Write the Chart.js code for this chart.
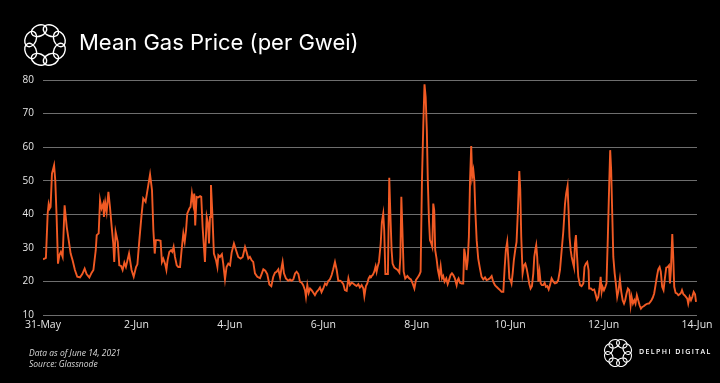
<!DOCTYPE html>
<html>
<head>
<meta charset="utf-8">
<script src="https://cdn.jsdelivr.net/npm/chart.js@4/dist/chart.umd.min.js"></script>
<style>
  html, body { margin: 0; padding: 0; background: #000; }
  #wrap { position: relative; width: 720px; height: 383px; background: #000; overflow: hidden; }
  #gasChart { position: absolute; left: 0; top: 0; }
  .title { position: absolute; left: 79px; top: 29px; color: #fff; font-family: 'Inter', 'Noto Sans', sans-serif; font-size: 22px; font-weight: 400; white-space: nowrap; }
  .note { position: absolute; left: 29px; color: #d8d8d8; font-family: 'Open Sans', sans-serif; font-style: italic; font-size: 8.5px; white-space: nowrap; }
  .brand { position: absolute; left: 639px; top: 347px; color: #fff; font-family: 'Open Sans', sans-serif; font-size: 7px; font-weight: 600; letter-spacing: 1.4px; white-space: nowrap; }
</style>
</head>
<body>
<div id="wrap">
  <canvas id="gasChart" width="720" height="383"></canvas>
  <div class="title">Mean Gas Price (per Gwei)</div>
  <div class="note" style="top:347px">Data as of June 14, 2021</div>
  <div class="note" style="top:358px">Source: Glassnode</div>
  <div class="brand">DELPHI DIGITAL</div>
</div>
<script>
// x축: 5월 31일 0시부터 경과 시간(h), 2일마다 날짜 표시
const tickLabels = ['31-May', '2-Jun', '4-Jun', '6-Jun', '8-Jun', '10-Jun', '12-Jun', '14-Jun'];

const hours = [
0, 1.5, 2.4, 2.9, 3.4, 3.9, 4.6, 5.7, 6.3, 7.0, 7.7, 8.4, 9.2, 10.1, 11.1, 12.2, 13.2, 14.2, 15.2, 16.4,
17.6, 19.0, 20.2, 21.4, 22.4, 23.8, 25.0, 25.9, 27.1, 27.6, 28.6, 29.3, 30.1, 31.0, 31.3, 32.0, 32.7, 33.6, 34.4, 35.3,
36.1, 36.6, 37.3, 38.4, 39.2, 40.1, 40.9, 41.8, 42.6, 44.2, 45.5, 46.6, 47.8, 48.5, 49.5, 50.7, 51.5, 52.7, 54.1, 55.0,
56.0, 56.7, 57.4, 58.0, 59.2, 60.4, 61.1, 61.8, 62.7, 63.4, 64.0, 64.9, 65.8, 66.4, 67.1, 67.8, 68.7, 69.5, 70.4, 71.2,
72.1, 72.8, 73.5, 74.1, 75.2, 75.8, 76.5, 77.2, 77.7, 78.2, 78.9, 79.7, 80.7, 81.3, 82.0, 83.2, 84.1, 84.8, 85.3, 85.8,
86.3, 87.0, 87.8, 88.9, 89.6, 90.1, 90.9, 91.9, 92.6, 93.5, 94.3, 95.2, 96.1, 96.9, 98.1, 99.2, 100.3, 101.5, 102.6, 103.8,
104.6, 105.5, 106.3, 107.2, 108.0, 108.9, 110.1, 111.5,
112.3, 113.2, 114.2, 115.2, 116.3, 117.3, 118.3, 119.2, 120.0, 120.9, 121.8, 122.6, 123.1, 123.8, 124.8, 126.0, 126.9, 127.7, 128.6, 129.5,
130.3, 131.2, 132.0, 132.9, 133.7, 134.6, 135.1, 135.8, 136.5, 137.2, 138.0, 138.9, 139.7, 140.6, 141.4, 142.3, 143.1, 144.0, 144.9, 145.7,
146.6, 147.4, 148.3, 149.1, 150.0, 150.9, 151.7, 152.6, 153.4, 154.3, 155.1, 156.0, 156.9, 157.7, 158.6, 159.4, 160.3, 161.1, 162.0, 162.8,
163.7, 164.6, 165.1, 165.9, 166.6, 167.3, 168.0,
168.5, 169.4, 170.2, 170.9, 171.4, 171.9, 172.6, 173.5, 174.1, 174.8, 175.3, 175.9, 176.5, 177.2, 177.9, 178.4, 179.1, 179.6, 180.5, 181.3,
182.2, 183.1, 183.6, 184.1, 184.6, 185.3, 186.1, 187.2, 188.2, 189.0, 189.9, 190.8, 191.6, 192.5, 193.3, 194.0, 194.7, 195.4, 196.0, 196.6,
197.2, 197.7, 198.3, 198.8, 199.5, 200.0, 200.5, 201.0, 201.5, 202.2, 202.9, 203.6, 204.3, 205.0, 205.6, 206.3, 207.2, 207.9, 208.7, 209.4,
210.1, 210.8, 211.6, 212.5, 213.0, 213.5, 214.2, 215.1, 215.9, 216.4, 217.1, 217.6, 218.2, 218.8, 219.4, 220.0,
220.5, 221.1, 221.6, 222.1, 222.8, 223.6, 224.5, 225.3, 226.2, 227.1, 227.9, 228.8, 229.6, 230.5, 231.3, 232.2, 233.0, 233.9, 234.8, 235.6,
236.5, 237.2, 237.8, 238.5, 239.0, 239.6, 240.2, 240.7, 241.3, 241.9, 242.6, 243.3, 244.0, 244.7, 245.2, 245.7, 246.4, 247.1, 247.8, 248.5,
249.1, 249.8, 250.5, 251.2, 251.9, 252.4, 252.9, 253.4, 253.9, 254.5, 255.1, 255.7, 256.3, 257.0, 257.7, 258.4, 259.1, 259.8, 260.5, 261.3,
262.2, 263.0, 263.9, 264.7, 265.6, 266.4, 267.3, 268.2, 268.8, 269.5, 270.0, 270.5, 271.1, 271.6, 272.3, 272.8, 273.3, 273.8, 274.4, 275.0,
275.9, 276.7, 277.6, 278.2, 278.9, 279.6, 280.3,
280.6, 281.5, 282.4, 283.2, 283.9, 284.6, 285.3, 285.9, 286.5, 287.0, 287.5, 288.2, 288.9, 289.5, 290.2, 290.9, 291.4, 291.9, 292.5, 293.0,
293.7, 294.3, 295.0, 295.7, 296.4, 297.1, 297.8, 298.5, 299.1, 299.8, 300.5, 301.2, 301.9, 302.4, 303.1, 303.8, 304.4, 305.1, 305.8, 306.5,
307.2, 307.9, 308.6, 309.2, 309.9, 310.6, 311.3, 312.0, 312.6, 313.3, 314.0, 314.7, 315.4, 316.1, 316.8, 317.4, 318.1, 318.8, 319.5, 320.2,
320.9, 321.6, 322.1, 322.6, 323.3, 323.8, 324.3, 325.0, 325.7, 326.4, 327.1, 327.8, 328.3, 329.0, 329.6, 330.3, 331.0, 331.5, 332.2, 332.9,
333.6, 334.3, 335.0, 335.5
];

const gas = [
26.6, 27.0, 40.2, 43.0, 41.7, 42.2, 52.1, 54.6, 50.1, 39.2, 25.3, 27.8, 28.8, 27.3, 42.7, 36.2, 32.3, 28.3, 26.3, 23.4,
21.4, 21.2, 22.2, 23.8, 22.2, 21.2, 22.6, 23.4, 29.3, 33.8, 34.3, 44.2, 41.7, 43.2, 39.2, 43.4, 40.7, 46.7, 42.2, 36.2,
31.3, 25.8, 34.8, 31.8, 24.8, 24.6, 23.4, 25.6, 24.3, 28.3, 23.4, 21.4, 24.3, 25.1, 32.3, 40.2, 44.7, 43.7, 48.7, 51.9,
47.2, 35.3, 28.3, 32.3, 32.3, 32.1, 25.8, 26.8, 25.3, 23.4, 26.3, 28.8, 29.3, 28.8, 30.3, 27.3, 24.8, 24.3, 24.3, 29.3,
34.3, 31.8, 35.3, 40.2, 41.7, 42.2, 46.2, 43.2, 46.2, 36.7, 45.2, 45.0, 45.4, 45.2, 36.2, 25.8, 39.2, 37.2, 31.3, 39.2,
48.7, 40.2, 28.3, 26.3, 24.3, 27.8, 27.3, 28.1, 25.3, 20.6, 24.3, 25.3, 24.8, 28.5, 31.3, 29.3, 27.3, 26.8, 27.3, 30.3,
28.8, 26.8, 27.3, 26.3, 25.8, 22.4, 21.4, 21.0,
22.2, 23.6, 23.2, 22.2, 19.1, 18.6, 21.4, 22.6, 22.9, 23.6, 21.2, 24.3, 25.8, 22.4, 20.9, 20.2, 20.6, 20.2, 20.6, 22.4,
22.9, 22.2, 19.9, 19.6, 18.9, 17.4, 15.4, 18.9, 16.6, 17.9, 17.4, 16.6, 15.9, 16.9, 17.4, 18.2, 16.8, 17.9, 19.4, 18.9,
20.2, 20.6, 21.9, 23.6, 25.8, 23.4, 20.2, 20.2, 19.9, 19.2, 17.4, 17.2, 20.9, 18.9, 19.6, 19.4, 18.9, 18.6, 19.2, 18.2,
18.9, 17.9, 15.6, 18.6, 19.4, 20.9, 21.6,
21.4, 21.9, 22.9, 24.5, 22.9, 24.3, 25.8, 31.3, 37.7, 40.2, 35.3, 22.2, 22.2, 22.2, 50.9, 41.2, 29.3, 25.3, 24.1, 23.8,
23.4, 22.6, 27.3, 45.2, 36.2, 22.9, 20.9, 21.6, 20.9, 20.6, 19.4, 17.9, 20.4, 21.2, 21.9, 22.9, 50.1, 67.0, 78.7, 74.9,
65.0, 50.1, 38.2, 32.3, 31.3, 30.3, 43.2, 41.2, 29.3, 26.8, 23.4, 21.4, 24.5, 20.9, 21.6, 19.9, 20.9, 19.2, 20.6, 21.9,
22.4, 21.9, 20.9, 18.9, 20.4, 20.9, 19.6, 19.4, 19.4, 29.8, 27.3, 23.4, 26.3, 33.3, 50.1, 60.3,
51.1, 53.1, 50.1, 41.2, 32.3, 26.8, 23.8, 21.4, 20.6, 21.2, 20.4, 20.6, 20.9, 21.6, 19.9, 18.9, 18.4, 17.9, 17.4, 16.9,
16.9, 24.3, 29.3, 31.8, 27.3, 20.9, 20.4, 19.4, 22.4, 26.3, 29.3, 31.8, 41.2, 52.9, 47.2, 33.3, 22.4, 24.8, 25.3, 23.8,
21.9, 19.4, 17.9, 18.6, 22.4, 27.3, 29.3, 30.8, 27.3, 19.9, 22.9, 19.4, 18.9, 18.9, 19.6, 18.4, 18.6, 17.6, 18.9, 20.9,
19.9, 19.4, 19.6, 20.4, 23.4, 28.8, 34.8, 43.2, 46.2, 48.4, 41.2, 33.3, 29.3, 27.3, 25.5, 24.3, 31.3, 33.8, 27.3, 21.4,
18.9, 18.6, 19.4, 24.3, 25.3, 25.8, 23.4,
17.9, 17.9, 17.4, 17.6, 16.2, 14.6, 15.4, 17.9, 21.4, 16.9, 18.4, 17.4, 18.4, 19.4, 33.3, 49.1, 59.1, 53.1, 39.2, 27.3,
22.4, 19.4, 15.4, 17.4, 20.6, 16.9, 14.4, 13.4, 14.4, 16.4, 17.9, 17.4, 12.9, 15.4, 13.4, 14.4, 13.4, 15.9, 14.4, 12.9,
11.9, 12.4, 12.6, 12.9, 13.2, 13.4, 13.4, 13.9, 14.4, 15.2, 16.4, 18.9, 21.4, 23.6, 24.3, 22.9, 18.4, 17.4, 20.9, 24.1,
24.3, 24.8, 19.4, 23.4, 34.1, 27.3, 18.4, 16.6, 16.4, 15.9, 16.2, 16.6, 17.4, 16.2, 15.9, 15.4, 14.9, 13.4, 15.4, 14.4,
15.4, 16.9, 16.2, 13.9
];

// 델파이 로고 (고리 8개)
function drawRing(ctx, cx, cy, R, rx, ry, lw) {
  ctx.save();
  ctx.strokeStyle = '#ffffff';
  ctx.lineWidth = lw;
  for (let k = 0; k < 8; k++) {
    const a = k * Math.PI / 4 + Math.PI / 8;
    ctx.beginPath();
    ctx.ellipse(cx + R * Math.cos(a), cy + R * Math.sin(a), rx, ry, a + Math.PI / 2, 0, Math.PI * 2);
    ctx.stroke();
  }
  ctx.restore();
}

const logoPlugin = {
  id: 'logos',
  afterDraw(chart) {
    const ctx = chart.ctx;
    drawRing(ctx, 45, 45, 15.5, 8, 5.5, 1.4);
    drawRing(ctx, 618, 353, 10, 5.5, 4, 1.1);
  }
};

const ctx = document.getElementById('gasChart').getContext('2d');

new Chart(ctx, {
  type: 'line',
  data: {
    datasets: [{
      label: 'Mean Gas Price',
      data: hours.map((h, i) => ({ x: h, y: gas[i] })),
      borderColor: '#f15a24',
      borderWidth: 1.9,
      pointRadius: 0,
      tension: 0,
      fill: false
    }]
  },
  options: {
    responsive: false,
    animation: false,
    layout: { padding: { top: 80, right: 23, left: 0, bottom: 0 } },
    plugins: {
      legend: { display: false },
      tooltip: { enabled: false }
    },
    scales: {
      x: {
        type: 'linear',
        min: 0,
        max: 336,
        afterFit: (s) => { s.height = 68; },
        grid: { display: false, drawTicks: false },
        border: { display: false },
        ticks: {
          stepSize: 48,
          autoSkip: false,
          maxRotation: 0,
          padding: 4,
          color: '#e6e6e6',
          font: { family: 'Open Sans', size: 10.5 },
          callback: (v) => tickLabels[Math.round(v / 48)]
        }
      },
      y: {
        min: 10,
        max: 80,
        afterFit: (s) => { s.width = 43; },
        grid: { color: '#6e6e6e', lineWidth: 1, drawTicks: false },
        border: { display: false },
        ticks: {
          stepSize: 10,
          padding: 9,
          color: '#e6e6e6',
          font: { family: 'Open Sans', size: 10 }
        }
      }
    }
  },
  plugins: [logoPlugin]
});
</script>
</body>
</html>
